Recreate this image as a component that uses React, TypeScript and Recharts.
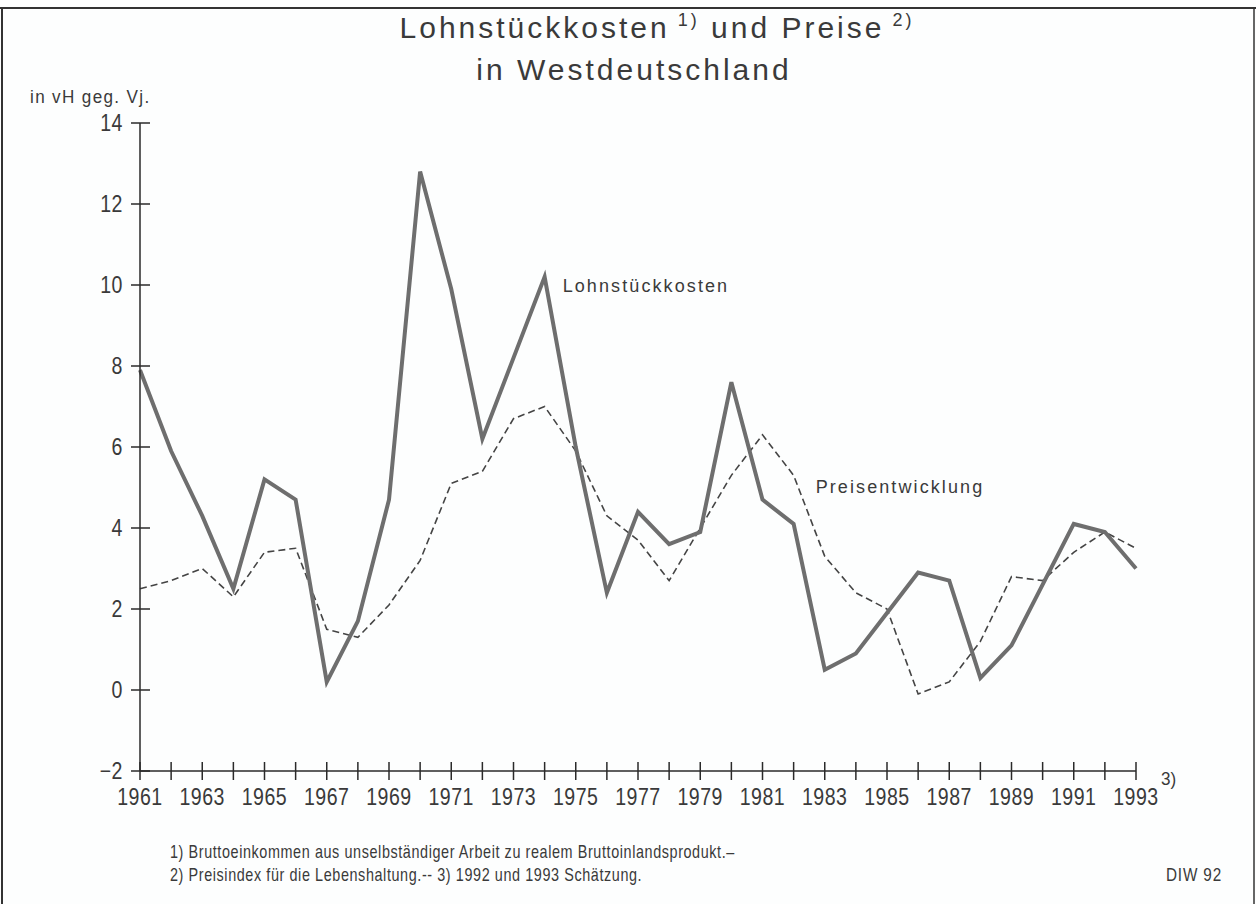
import React from 'react';
import { LineChart, Line, XAxis, YAxis, LabelList } from 'recharts';

const years = [1961, 1962, 1963, 1964, 1965, 1966, 1967, 1968, 1969, 1970, 1971, 1972, 1973, 1974, 1975, 1976, 1977, 1978, 1979, 1980, 1981, 1982, 1983, 1984, 1985, 1986, 1987, 1988, 1989, 1990, 1991, 1992, 1993];
const lohnstueckkosten = [7.9, 5.9, 4.3, 2.5, 5.2, 4.7, 0.2, 1.7, 4.7, 12.8, 9.9, 6.2, 8.2, 10.2, 6.0, 2.4, 4.4, 3.6, 3.9, 7.6, 4.7, 4.1, 0.5, 0.9, 1.9, 2.9, 2.7, 0.3, 1.1, 2.6, 4.1, 3.9, 3.0];
const preise = [2.5, 2.7, 3.0, 2.3, 3.4, 3.5, 1.5, 1.3, 2.1, 3.2, 5.1, 5.4, 6.7, 7.0, 5.9, 4.3, 3.7, 2.7, 4.0, 5.3, 6.3, 5.3, 3.3, 2.4, 2.0, -0.1, 0.2, 1.2, 2.8, 2.7, 3.4, 3.9, 3.5];
const yTicks = [-2, 0, 2, 4, 6, 8, 10, 12, 14];
const seriesLabels = { lohn: 'Lohnstückkosten', preise: 'Preisentwicklung' };
const titleLine1 = 'Lohnstückkosten';
const titleLine2 = 'in Westdeutschland';
const yUnit = 'in vH geg. Vj.';
const footnote1 = '1) Bruttoeinkommen aus unselbständiger Arbeit zu realem Bruttoinlandsprodukt.–';
const footnote2 = '2) Preisindex für die Lebenshaltung.-- 3) 1992 und 1993 Schätzung.';
const source = 'DIW 92';

const data = years.map((y, i) => ({ year: y, lohn: lohnstueckkosten[i], preise: preise[i] }));

const FONT = '"Liberation Sans", Arial, sans-serif';
const INK = '#3a3a3a';
const AXIS = '#2a2a2a';

const NarrowText = ({ x, y, sx = 0.85, anchor = 'start', size, spacing = 0, children }: any) => (
  <text
    transform={`translate(${x} ${y}) scale(${sx} 1)`}
    x={0}
    y={0}
    textAnchor={anchor}
    fontFamily={FONT}
    fontSize={size}
    fill={INK}
    letterSpacing={spacing}
  >
    {children}
  </text>
);

const XTick = (props: any) => {
  const { x, y, payload } = props;
  const v = payload.value;
  return (
    <g>
      <line x1={x} x2={x} y1={y - 9} y2={y + 9} stroke={AXIS} strokeWidth={1.5} />
      {v % 2 === 1 && (
        <NarrowText x={x} y={y + 34} anchor="middle" size={23} spacing={0.6}>
          {v}
        </NarrowText>
      )}
      {v === 1993 && (
        <NarrowText x={x + 25} y={y + 14} size={19} sx={0.9}>
          3)
        </NarrowText>
      )}
    </g>
  );
};

const YTick = (props: any) => {
  const { x, y, payload } = props;
  const v = payload.value;
  return (
    <g>
      <line x1={x - 9} x2={x + 10} y1={y} y2={y} stroke={AXIS} strokeWidth={1.5} />
      <NarrowText x={x - 17} y={y + 8} anchor="end" size={23} spacing={0.6}>
        {v < 0 ? '−' + Math.abs(v) : v}
      </NarrowText>
    </g>
  );
};

const makeLabel = (idx: number, text: string, dx: number, dy: number) => (props: any) => {
  const { x, y, index } = props;
  if (index !== idx) return null;
  return (
    <text x={x + dx} y={y + dy} fontFamily={FONT} fontSize={18} fill={INK} letterSpacing={2.1}>
      {text}
    </text>
  );
};

export default function App() {
  return (
    <div style={{ position: 'absolute', left: 0, top: 0, width: 1256, height: 904, background: '#fdfefe' }}>
      <LineChart width={1256} height={904} data={data} margin={{ top: 123, right: 120, bottom: 0, left: 0 }}>
        <XAxis
          dataKey="year"
          type="number"
          domain={[1961, 1993]}
          ticks={years}
          interval={0}
          height={133}
          tickSize={0}
          tickMargin={0}
          tick={<XTick />}
          stroke={AXIS}
          strokeWidth={1.5}
        />
        <YAxis
          type="number"
          domain={[-2, 14]}
          ticks={yTicks}
          interval={0}
          width={140}
          tickSize={0}
          tickMargin={0}
          tick={<YTick />}
          stroke={AXIS}
          strokeWidth={1.5}
        />
        <Line
          dataKey="preise"
          stroke="#444"
          strokeWidth={1.6}
          strokeDasharray="7 4"
          dot={false}
          isAnimationActive={false}
        >
          <LabelList dataKey="preise" content={makeLabel(21, seriesLabels.preise, 22, 18)} />
        </Line>
        <Line
          dataKey="lohn"
          stroke="#6e6e6e"
          strokeWidth={4}
          dot={false}
          isAnimationActive={false}
        >
          <LabelList dataKey="lohn" content={makeLabel(13, seriesLabels.lohn, 18, 15)} />
        </Line>
      </LineChart>
      <svg width={1256} height={904} style={{ position: 'absolute', left: 0, top: 0, pointerEvents: 'none' }}>
        <line x1={0} x2={1256} y1={8} y2={8} stroke="#333" strokeWidth={2} />
        <line x1={2} x2={2} y1={8} y2={904} stroke="#333" strokeWidth={2} />
        <line x1={1254} x2={1254} y1={8} y2={904} stroke="#333" strokeWidth={1.5} />
        <text x={657} y={38} textAnchor="middle" fontFamily={FONT} fontSize={30} fill={INK} letterSpacing={3}>
          {titleLine1}
          <tspan fontSize={18} dy={-12}>{' 1)'}</tspan>
          <tspan fontSize={30} dy={12}>{' und Preise'}</tspan>
          <tspan fontSize={18} dy={-12}>{' 2)'}</tspan>
        </text>
        <text x={634} y={80} textAnchor="middle" fontFamily={FONT} fontSize={30} fill={INK} letterSpacing={3}>
          {titleLine2}
        </text>
        <NarrowText x={30} y={103} size={19} sx={0.9} spacing={1.5}>
          {yUnit}
        </NarrowText>
        <NarrowText x={170} y={858} size={18} sx={0.8} spacing={0.75}>
          {footnote1}
        </NarrowText>
        <NarrowText x={170} y={881} size={18} sx={0.8} spacing={0.75}>
          {footnote2}
        </NarrowText>
        <NarrowText x={1222} y={881} anchor="end" size={18} sx={0.85} spacing={1}>
          {source}
        </NarrowText>
      </svg>
    </div>
  );
}
